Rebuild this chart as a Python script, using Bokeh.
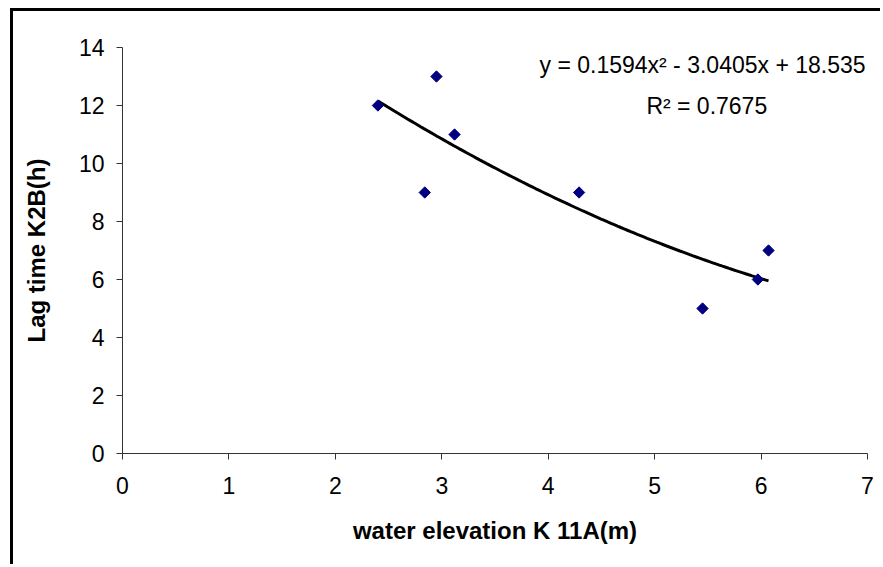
import numpy as np
from bokeh.plotting import figure
from bokeh.models import Label, Range1d, FixedTicker
from bokeh.embed import file_html
from bokeh.resources import INLINE

# data
water_elevation = [2.40, 2.84, 2.95, 3.12, 4.29, 5.45, 5.97, 6.07]
lag_time = [12, 9, 13, 11, 9, 5, 6, 7]
# displayed polynomial trendline coefficients (a x^2 + b x + c)
trend_coef = [0.1594, -3.0405, 18.535]
r_squared = 0.7675
x_ticks = [0, 1, 2, 3, 4, 5, 6, 7]
y_ticks = [0, 2, 4, 6, 8, 10, 12, 14]

FONT = "Liberation Sans"

p = figure(width=870, height=556, output_backend="svg", toolbar_location=None,
           x_range=Range1d(0, 7), y_range=Range1d(0, 14),
           min_border_left=109, min_border_right=16,
           min_border_top=36, min_border_bottom=114)
p.margin = (8, 0, 0, 10)
p.styles = {"border-left": "3px solid black", "border-top": "3px solid black"}
p.outline_line_color = None
p.xgrid.visible = False
p.ygrid.visible = False
p.background_fill_color = "white"
p.border_fill_color = "white"

for ax in (p.xaxis[0], p.yaxis[0]):
    ax.axis_line_color = "#333333"
    ax.major_tick_line_color = "#333333"
    ax.minor_tick_line_color = None
    ax.major_tick_out = 6
    ax.major_tick_in = 0
    ax.major_label_text_font = FONT
    ax.major_label_text_font_size = "23px"
    ax.major_label_text_color = "black"
    ax.axis_label_text_font = FONT
    ax.axis_label_text_font_size = "24px"
    ax.axis_label_text_font_style = "bold"
    ax.axis_label_text_color = "black"

p.xaxis.ticker = FixedTicker(ticks=x_ticks)
p.yaxis.ticker = FixedTicker(ticks=y_ticks)
p.xaxis.axis_label = "water elevation K 11A(m)"
p.yaxis.axis_label = "Lag time K2B(h)"
p.xaxis.major_label_standoff = 17
p.yaxis.major_label_standoff = 12
p.xaxis.axis_label_standoff = 20
p.yaxis.axis_label_standoff = 26

# trendline
xs = np.linspace(min(water_elevation), max(water_elevation), 120)
ys = trend_coef[0] * xs**2 + trend_coef[1] * xs + trend_coef[2]
p.line(xs, ys, line_color="black", line_width=3)

# points
p.scatter(water_elevation, lag_time, marker="square", size=8, angle=np.pi / 4,
          fill_color="#000080", line_color="#000080")

eq = "y = %.4fx\u00b2 - %.4fx + %.3f" % (trend_coef[0], -trend_coef[1], trend_coef[2])
p.add_layout(Label(x=5.45, y=13.38, text=eq, text_align="center",
                   text_baseline="alphabetic", text_font=FONT,
                   text_font_size="23px", text_color="black"))
p.add_layout(Label(x=5.49, y=12.0, text="R\u00b2 = %.4f" % r_squared,
                   text_align="center", text_baseline="alphabetic",
                   text_font=FONT, text_font_size="23px", text_color="black"))

open("out.html", "w").write(file_html(p, INLINE))
